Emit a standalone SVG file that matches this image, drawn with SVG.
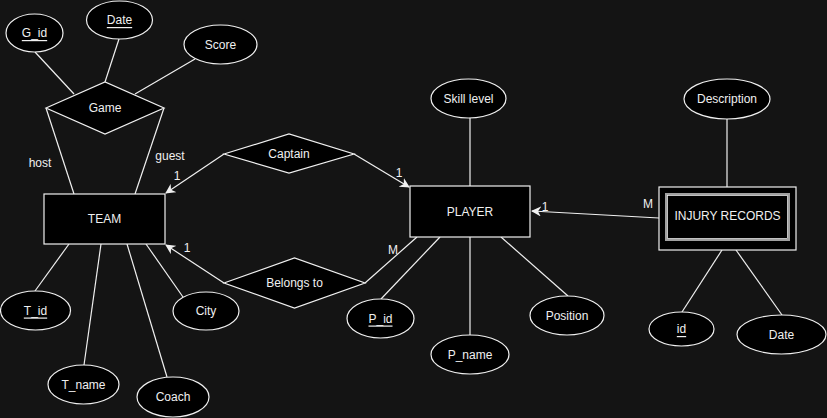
<svg xmlns="http://www.w3.org/2000/svg" width="827" height="418" viewBox="0 0 827 418">
<defs>
<style>
.n{fill:#000;stroke:#f0f0f0;stroke-width:1.2}
.t{font-family:"Liberation Sans",Arial,sans-serif;font-size:12px;fill:#f0f0f0;text-anchor:middle;dominant-baseline:central}
.u{text-decoration:underline}
.c{stroke:#f0f0f0;stroke-width:1.2;fill:none}
</style>
<marker id="ar" viewBox="0 0 10 10" refX="9" refY="5" markerWidth="10" markerHeight="10" markerUnits="userSpaceOnUse" orient="auto">
<path d="M0,0 L10,5 L0,10 L3,5 z" fill="#f0f0f0"/>
</marker>
</defs>
<rect width="827" height="418" fill="#141414"/>
<g id="connectors">
<line class="c" x1="35" y1="52" x2="74" y2="94"/>
<line class="c" x1="119" y1="39" x2="105" y2="82"/>
<line class="c" x1="195" y1="59" x2="135" y2="94"/>
<line class="c" x1="46" y1="108" x2="74" y2="194"/>
<line class="c" x1="164" y1="108" x2="135" y2="194"/>
<line class="c" x1="69" y1="244" x2="35" y2="291"/>
<line class="c" x1="101" y1="244" x2="84" y2="365"/>
<line class="c" x1="127" y1="244" x2="167" y2="377"/>
<line class="c" x1="146" y1="244" x2="183" y2="297"/>
<line class="c" x1="224" y1="154" x2="166" y2="193" marker-end="url(#ar)"/>
<line class="c" x1="354" y1="154" x2="409" y2="187" marker-end="url(#ar)"/>
<line class="c" x1="224" y1="283" x2="166" y2="245" marker-end="url(#ar)"/>
<line class="c" x1="365" y1="283" x2="417" y2="237"/>
<line class="c" x1="470" y1="118" x2="470" y2="186"/>
<line class="c" x1="440" y1="237" x2="381" y2="299"/>
<line class="c" x1="470" y1="237" x2="470" y2="335"/>
<line class="c" x1="501" y1="237" x2="568" y2="296"/>
<line class="c" x1="659" y1="218" x2="532" y2="211" marker-end="url(#ar)"/>
<line class="c" x1="727" y1="119" x2="727" y2="187"/>
<line class="c" x1="722" y1="250" x2="682" y2="312"/>
<line class="c" x1="736" y1="250" x2="782" y2="315"/>
<text class="t" x="40" y="163">host</text>
<text class="t" x="170" y="156">guest</text>
<text class="t" x="177" y="176">1</text>
<text class="t" x="399" y="173">1</text>
<text class="t" x="187" y="248">1</text>
<text class="t" x="393" y="250">M</text>
<text class="t" x="545" y="207">1</text>
<text class="t" x="648" y="204">M</text>
</g>
<g id="g_id"><ellipse class="n" cx="34.5" cy="33" rx="28.5" ry="19"/><text class="t u" x="34.5" y="33">G_id</text></g>
<g id="game_date"><ellipse class="n" cx="119.5" cy="20" rx="33" ry="19"/><text class="t u" x="119.5" y="20">Date</text></g>
<g id="score"><ellipse class="n" cx="220.5" cy="44.5" rx="36.5" ry="19.5"/><text class="t" x="220.5" y="44.5">Score</text></g>
<g id="game"><polygon class="n" points="46,108 105,82 164,108 105,134"/><text class="t" x="105" y="108">Game</text></g>
<g id="team"><rect class="n" x="44" y="194" width="121" height="50"/><text class="t" x="104.5" y="219">TEAM</text></g>
<g id="t_id"><ellipse class="n" cx="35.5" cy="310.5" rx="35" ry="19.5"/><text class="t u" x="35.5" y="310.5">T_id</text></g>
<g id="t_name"><ellipse class="n" cx="83.5" cy="384.5" rx="35.5" ry="19.5"/><text class="t" x="83.5" y="384.5">T_name</text></g>
<g id="coach"><ellipse class="n" cx="173" cy="397" rx="36" ry="20"/><text class="t" x="173" y="397">Coach</text></g>
<g id="city"><ellipse class="n" cx="206" cy="311" rx="33" ry="19"/><text class="t" x="206" y="311">City</text></g>
<g id="captain"><polygon class="n" points="224,154 289,134 354,154 289,173"/><text class="t" x="289" y="154">Captain</text></g>
<g id="belongs_to"><polygon class="n" points="224,283 294.5,258 365,283 294.5,308"/><text class="t" x="294.5" y="283">Belongs to</text></g>
<g id="player"><rect class="n" x="410" y="186" width="120" height="51"/><text class="t" x="470" y="211.5">PLAYER</text></g>
<g id="skill_level"><ellipse class="n" cx="468.5" cy="98.5" rx="37.5" ry="19.5"/><text class="t" x="468.5" y="98.5">Skill level</text></g>
<g id="p_id"><ellipse class="n" cx="380.5" cy="318.5" rx="33.5" ry="19.5"/><text class="t u" x="380.5" y="318.5">P_id</text></g>
<g id="p_name"><ellipse class="n" cx="470" cy="354.5" rx="39" ry="19.5"/><text class="t" x="470" y="354.5">P_name</text></g>
<g id="position"><ellipse class="n" cx="567" cy="315.5" rx="37" ry="19.5"/><text class="t" x="567" y="315.5">Position</text></g>
<g id="injury_records">
<rect class="n" x="659" y="187" width="137" height="63"/>
<rect x="666" y="194" width="123" height="46" fill="#000" stroke="#a0a0a0" stroke-width="2"/>
<rect x="667.5" y="195.5" width="120" height="43" fill="none" stroke="#f0f0f0" stroke-width="0.8"/>
<text class="t" x="727.5" y="216">INJURY RECORDS</text>
</g>
<g id="description"><ellipse class="n" cx="727" cy="99" rx="43" ry="20"/><text class="t" x="727" y="99">Description</text></g>
<g id="ir_id"><ellipse class="n" cx="681.5" cy="329" rx="32.5" ry="17"/><text class="t u" x="681.5" y="329">id</text></g>
<g id="ir_date"><ellipse class="n" cx="781.5" cy="334.5" rx="44.5" ry="19.5"/><text class="t" x="781.5" y="334.5">Date</text></g>
</svg>
